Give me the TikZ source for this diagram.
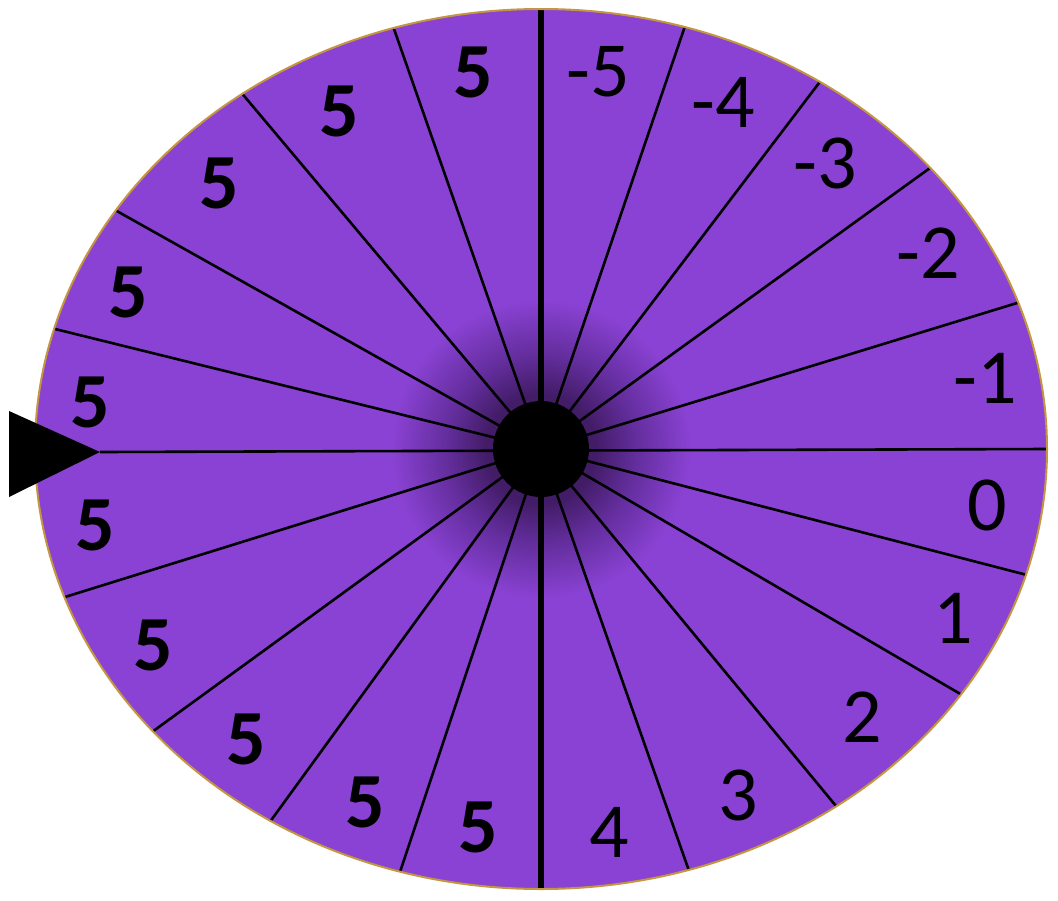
\documentclass[tikz,border=0pt]{standalone}
\usepackage{fontspec}
\newfontfamily\lbl{Carlito}
\usetikzlibrary{calc}
\definecolor{wheel}{RGB}{138,66,212}
\definecolor{shd}{RGB}{66,28,102}
\definecolor{shdmid}{RGB}{100,46,158}
\definecolor{rim}{RGB}{196,150,64}
\pgfdeclareradialshading{spinshadow}{\pgfpoint{0bp}{0bp}}{color(0bp)=(shd); color(4.5bp)=(shd); color(8bp)=(shdmid); color(12.5bp)=(wheel); color(50bp)=(wheel)}
\begin{document}
\begin{tikzpicture}[x=1pt,y=-1pt,
  ray/.style={line width=2.6pt, black},
  axisray/.style={line width=6pt, black},
  num/.style={font={\lbl\fontsize{78}{80}\selectfont}, inner sep=0pt},
  bnum/.style={font={\lbl\bfseries\fontsize{78}{80}\selectfont}, inner sep=0pt}]
\useasboundingbox (0,0) rectangle (1058,900);
\coordinate (o) at (541,449);
\fill[wheel] (o) ellipse [x radius=506, y radius=440];
% ray end points
\coordinate (r1) at (394,29);
\coordinate (r2) at (245,97);
\coordinate (r3) at (115,210);
\coordinate (r4) at (51,328);
\coordinate (r5) at (65,597);
\coordinate (r6) at (152,732);
\coordinate (r7) at (272,819);
\coordinate (r8) at (401,869);
\coordinate (r9) at (684,29);
\coordinate (r10) at (819,83);
\coordinate (r11) at (930,168);
\coordinate (r12) at (1017,303);
\coordinate (r13) at (1027,575);
\coordinate (r14) at (957,692);
\coordinate (r15) at (836,806);
\coordinate (r16) at (688,868);
\coordinate (vt) at (541,9);
\coordinate (vb) at (541,889);
\coordinate (hl) at (100,452);
\coordinate (hr) at (1047,449);
\begin{scope}
  \clip (o) ellipse [x radius=506, y radius=440];
  \shade[shading=spinshadow] (o) circle (300);
  \foreach \i in {1,...,16} \draw[ray] (o) -- ($(o)!1.04!(r\i)$);
  \draw[axisray] (vt) -- (vb);
  \draw[ray] (hl) -- ($(hl)!1.01!(hr)$);
\end{scope}
\draw[rim, line width=2pt] (o) ellipse [x radius=506, y radius=440];
\node[circle, fill=black, minimum size=96pt, inner sep=0pt] (hub) at (o) {};
% pointer
\coordinate (a1) at (9,411);
\coordinate (a2) at (9,497);
\fill[black] (a1) -- (hl) -- (a2) -- cycle;
% labels left
\node[bnum] (l1) at (473,72) {5};
\node[bnum] (l2) at (339,111) {5};
\node[bnum] (l3) at (219,183) {5};
\node[bnum] (l4) at (128,292) {5};
\node[bnum] (l5) at (90,402) {5};
\node[bnum] (l6) at (95,525) {5};
\node[bnum] (l7) at (153,645) {5};
\node[bnum] (l8) at (246,739) {5};
\node[bnum] (l9) at (365,802) {5};
\node[bnum] (l10) at (478,827) {5};
% labels right
\node[num] (m1) at (598,72) {-5};
\node[num] (m2) at (723,102) {-4};
\node[num] (m3) at (825,163) {-3};
\node[num] (m4) at (928,253) {-2};
\node[num] (m5) at (985,378) {-1};
\node[num] (m6) at (987,505) {0};
\node[num] (m7) at (953,618) {1};
\node[num] (m8) at (862,717) {2};
\node[num] (m9) at (738,795) {3};
\node[num] (m10) at (609,832) {4};
\end{tikzpicture}
\end{document}
